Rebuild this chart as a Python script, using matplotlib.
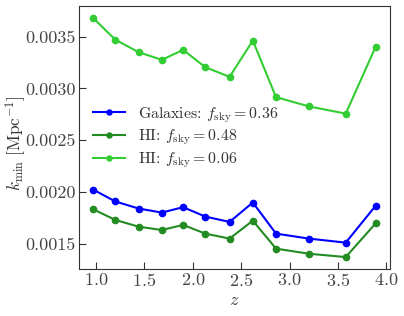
import numpy as np
import matplotlib
matplotlib.use("Agg")
import matplotlib.pyplot as plt

plt.rcParams['font.family'] = 'serif'
plt.rcParams['font.serif'] = ['cmr10']
plt.rcParams['mathtext.fontset'] = 'cm'
plt.rcParams['axes.formatter.use_mathtext'] = True
plt.rcParams['font.size'] = 13

# redshift bins
z = [0.97, 1.2, 1.44, 1.68, 1.9, 2.13, 2.38, 2.62, 2.86, 3.2, 3.58, 3.89]

# k_min values
kmin_gal = [0.002025, 0.00191, 0.001842, 0.001803, 0.001855, 0.001764,
            0.001713, 0.0019, 0.0016, 0.001552, 0.001513, 0.00187]
kmin_hi_48 = [0.001835, 0.001732, 0.001667, 0.001635, 0.001684, 0.0016,
              0.001552, 0.001725, 0.001455, 0.001406, 0.001374, 0.0017]
kmin_hi_06 = [0.00368, 0.00347, 0.00335, 0.003276, 0.003372, 0.003205,
              0.003112, 0.003462, 0.002916, 0.002827, 0.002757, 0.003404]

fig = plt.figure(figsize=(4.04, 3.16), dpi=100)
ax = fig.add_axes([0.1955, 0.1487, 0.7695, 0.8323])

ax.plot(z, kmin_gal, '-o', color='blue', lw=1.5, ms=4.5,
        label=r'Galaxies: $f_{\rm sky}=0.36$')
ax.plot(z, kmin_hi_48, '-o', color='forestgreen', lw=1.5, ms=4.5,
        label=r'HI: $f_{\rm sky}=0.48$')
ax.plot(z, kmin_hi_06, '-o', color='limegreen', lw=1.5, ms=4.5,
        label=r'HI: $f_{\rm sky}=0.06$')

ax.set_xlabel(r'$z$', labelpad=2)
ax.set_ylabel(r'$k_{\rm min}\ [{\rm Mpc}^{-1}]$', fontsize=12.5)
ax.yaxis.set_label_coords(-0.165, 0.48)
ax.set_xticks([1.0, 1.5, 2.0, 2.5, 3.0, 3.5, 4.0])
ax.set_yticks([0.0015, 0.0020, 0.0025, 0.0030, 0.0035])
ax.set_yticklabels(['0.0015', '0.0020', '0.0025', '0.0030', '0.0035'])
ax.tick_params(direction='in', length=5, pad=2.5, colors='#333333', labelcolor='#444444')
for s in ax.spines.values():
    s.set_color('#333333')
ax.xaxis.label.set_color('#333333')
ax.yaxis.label.set_color('#333333')
ax.legend(loc='center left', bbox_to_anchor=(0.0, 0.5), frameon=False,
          fontsize=11.4, labelspacing=0.2, markerscale=0.8, labelcolor='#333333')

fig.savefig('out.png', dpi=100)
